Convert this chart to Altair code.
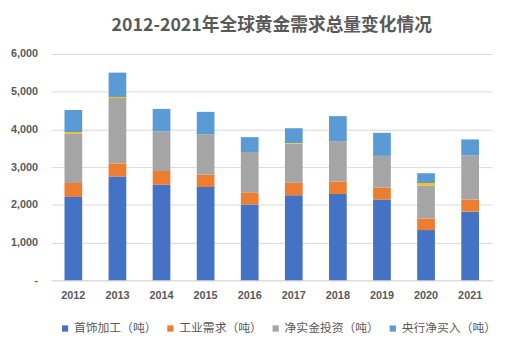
import altair as alt
import pandas as pd

years = ["2012", "2013", "2014", "2015", "2016", "2017", "2018", "2019", "2020", "2021"]
jewelry = [2210, 2750, 2533, 2473, 2010, 2254, 2285, 2141, 1332, 1820]
industrial = [370, 350, 365, 329, 322, 330, 334, 313, 305, 321]
bar_invest = [1300, 1730, 1052, 1070, 1070, 1040, 1070, 844, 877, 1167]
other = [45, 30, 0, 0, 0, 15, 0, 0, 63, 0]
central = [590, 645, 593, 593, 392, 392, 663, 611, 261, 426]

series_names = ["首饰加工（吨）", "工业需求（吨）", "净实金投资（吨）", "其他", "央行净买入（吨）"]
series_vals = [jewelry, industrial, bar_invest, other, central]
colors = ["#4472C4", "#ED7D31", "#A5A5A5", "#FFC000", "#5B9BD5"]
legend_names = ["首饰加工（吨）", "工业需求（吨）", "净实金投资（吨）", "央行净买入（吨）"]

rows = []
for i, (name, vals) in enumerate(zip(series_names, series_vals)):
    for y, v in zip(years, vals):
        rows.append({"year": y, "series": name, "value": v, "ord": i})
df = pd.DataFrame(rows)

chart = alt.Chart(df).mark_bar(size=18).encode(
    x=alt.X("year:N", title=None, sort=years,
            scale=alt.Scale(paddingInner=0.6, paddingOuter=0.3),
            axis=alt.Axis(labelAngle=0, ticks=False, domain=True, domainColor="#D9D9D9",
                          labelFont="Liberation Sans", labelFontSize=11, labelFontWeight="bold",
                          labelColor="#595959", labelPadding=10)),
    y=alt.Y("value:Q", title=None, stack="zero",
            scale=alt.Scale(domain=[0, 6000]),
            axis=alt.Axis(values=[0, 1000, 2000, 3000, 4000, 5000, 6000],
                          labelExpr="datum.value == 0 ? '-' : format(datum.value, ',')",
                          ticks=False, domain=False, gridColor="#D9D9D9",
                          labelFont="Liberation Sans", labelFontSize=11, labelFontWeight="bold",
                          labelColor="#595959", labelPadding=14)),
    color=alt.Color("series:N", sort=series_names,
                    scale=alt.Scale(domain=series_names, range=colors),
                    legend=alt.Legend(title=None, orient="none", legendX=8, legendY=273,
                                      direction="horizontal",
                                      values=legend_names, symbolType="square", symbolSize=40,
                                      symbolStrokeWidth=0, labelFont="Noto Sans CJK SC",
                                      labelFontSize=12, labelColor="#595959", columnPadding=7,
                                      labelOffset=3)),
    order=alt.Order("ord:Q", sort="ascending"),
).properties(
    width=448, height=230,
    padding={"left": 44, "top": 44, "right": 12, "bottom": 60},
    autosize=alt.AutoSizeParams(type="none"),
    title=alt.TitleParams("2012-2021年全球黄金需求总量变化情况", font="Noto Sans CJK SC",
                          fontSize=18, fontWeight="bold", color="#595959", anchor="middle", offset=13),
).configure_view(stroke=None)

chart.save("out.html", embed_options={"renderer": "svg", "actions": False})
